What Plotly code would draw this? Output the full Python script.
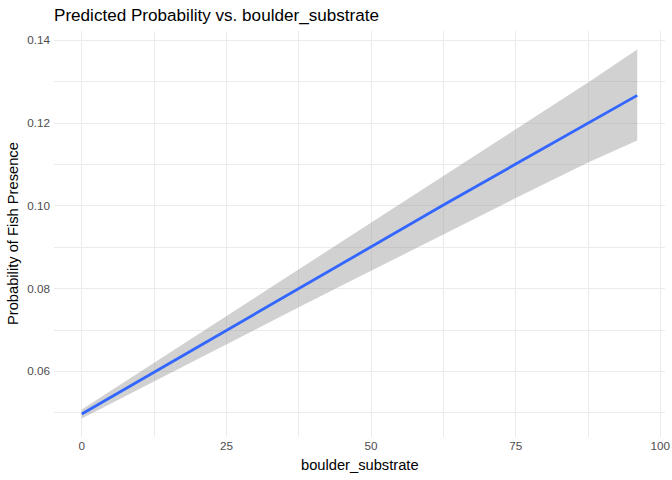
import plotly.graph_objects as go

# Data
boulder_substrate = [0, 12.5, 25, 37.5, 50, 62.5, 75, 87.5, 96]
prob_fit = [0.0497, 0.0598, 0.0699, 0.0801, 0.0902, 0.1002, 0.1101, 0.1199, 0.1267]
prob_upper = [0.0508, 0.0621, 0.0733, 0.0848, 0.0961, 0.1074, 0.1187, 0.1298, 0.1378]
prob_lower = [0.0486, 0.0576, 0.0665, 0.0755, 0.0843, 0.0931, 0.1019, 0.1105, 0.1158]
x_ticks = [0, 25, 50, 75, 100]
y_ticks = [0.06, 0.08, 0.10, 0.12, 0.14]

W, H = 672, 480
ml, mr, mt, mb = 54, 7, 31, 43

fig = go.Figure()
fig.add_trace(go.Scatter(x=boulder_substrate, y=prob_lower, mode="lines",
                         line=dict(width=0, color="rgba(0,0,0,0)"),
                         showlegend=False, hoverinfo="skip"))
fig.add_trace(go.Scatter(x=boulder_substrate, y=prob_upper, mode="lines",
                         line=dict(width=0, color="rgba(0,0,0,0)"),
                         fill="tonexty", fillcolor="rgba(153,153,153,0.45)",
                         showlegend=False, hoverinfo="skip"))
fig.add_trace(go.Scatter(x=boulder_substrate, y=prob_fit, mode="lines",
                         line=dict(width=2.8, color="#3366FF"),
                         showlegend=False))

xmin, xmax = min(boulder_substrate), max(boulder_substrate)
xpad = 0.05 * (xmax - xmin)
ymin, ymax = min(prob_lower), max(prob_upper)
ypad = 0.05 * (ymax - ymin)

grid = "#EBEBEB"
fig.update_layout(
    width=W, height=H,
    margin=dict(l=ml, r=mr, t=mt, b=mb, pad=0),
    paper_bgcolor="white", plot_bgcolor="white",
    font=dict(family="Liberation Sans, Arial, sans-serif", color="black"),
    title=dict(text="Predicted Probability vs. boulder_substrate",
               font=dict(size=17.1, color="black"),
               x=ml / W, xref="container", xanchor="left",
               y=1 - 15 / H, yref="container", yanchor="middle",
               pad=dict(l=0, r=0, t=0, b=0)),
    xaxis=dict(range=[xmin - xpad, xmax + xpad], tickvals=x_ticks,
               ticktext=[str(v) for v in x_ticks], automargin=False,
               showgrid=True, gridcolor=grid, gridwidth=1.1,
               minor=dict(dtick=12.5, tick0=0, showgrid=True, gridcolor=grid, gridwidth=0.55),
               zeroline=False, showline=False, ticks="",
               tickfont=dict(size=11.7, color="#4D4D4D")),
    yaxis=dict(range=[ymin - ypad, ymax + ypad], tickvals=y_ticks,
               ticktext=[f"{v:.2f}" for v in y_ticks], automargin=False,
               showgrid=True, gridcolor=grid, gridwidth=1.1,
               minor=dict(dtick=0.01, tick0=0.05, showgrid=True, gridcolor=grid, gridwidth=0.55),
               zeroline=False, showline=False, ticks="", ticklabelstandoff=3,
               tickfont=dict(size=11.7, color="#4D4D4D")),
    annotations=[
        dict(text="boulder_substrate", xref="paper", yref="paper", x=0.5, y=0,
             xanchor="center", yanchor="middle", yshift=-28, showarrow=False,
             font=dict(size=14.7, color="black")),
        dict(text="Probability of Fish Presence", xref="paper", yref="paper", x=0, y=0.5,
             xanchor="center", yanchor="middle", xshift=-(ml - 13), textangle=-90,
             showarrow=False, font=dict(size=14.7, color="black")),
    ],
)

fig.write_html("out.html", config={"displayModeBar": False},
               post_script="document.body.style.margin='0';document.body.style.overflow='hidden';")
